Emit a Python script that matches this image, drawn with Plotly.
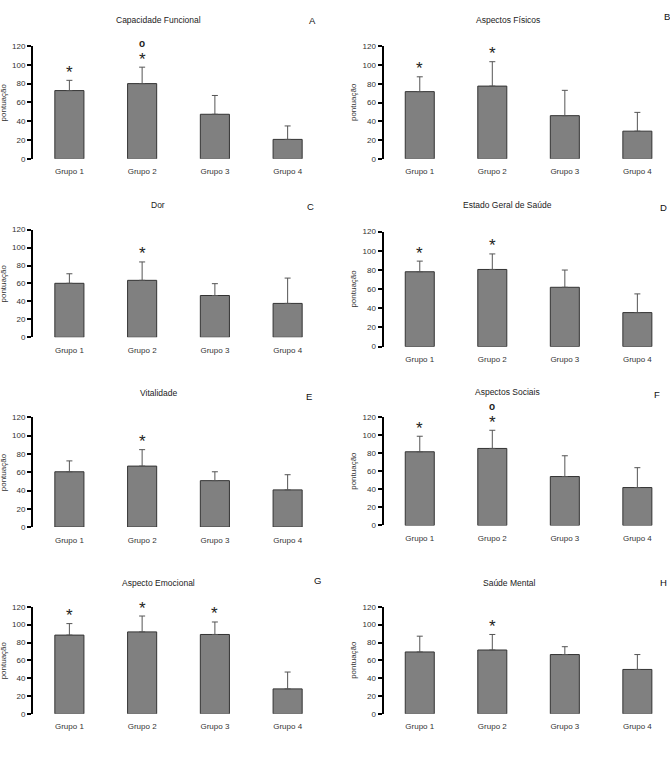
import plotly.graph_objects as go

W, H = 670, 766

groups = ["Grupo 1", "Grupo 2", "Grupo 3", "Grupo 4"]
yticks = [0, 20, 40, 60, 80, 100, 120]

titles = ["Capacidade Funcional", "Aspectos Físicos", "Dor", "Estado Geral de Saúde",
          "Vitalidade", "Aspectos Sociais", "Aspecto Emocional", "Saúde Mental"]
letters = ["A", "B", "C", "D", "E", "F", "G", "H"]

means_A = [72.6, 80.0, 47.4, 20.7]
sd_A = [10.9, 17.5, 20.0, 14.3]
means_B = [71.6, 77.5, 46.0, 29.5]
sd_B = [15.8, 26.0, 27.0, 20.0]
means_C = [60.2, 63.5, 46.6, 37.8]
sd_C = [10.6, 20.5, 13.2, 28.2]
means_D = [78.1, 80.5, 61.9, 35.5]
sd_D = [11.1, 16.2, 18.0, 19.5]
means_E = [60.5, 66.7, 50.8, 40.7]
sd_E = [11.9, 18.0, 9.7, 16.6]
means_F = [81.6, 85.3, 54.2, 42.0]
sd_F = [17.2, 20.1, 23.0, 22.0]
means_G = [88.3, 91.9, 89.0, 28.0]
sd_G = [12.9, 17.8, 14.0, 18.9]
means_H = [69.4, 71.6, 66.5, 49.8]
sd_H = [17.7, 17.4, 8.8, 16.7]

# significance markers: "*" and "o"
star_A = [1, 1, 0, 0]; circ_A = [0, 1, 0, 0]
star_B = [1, 1, 0, 0]; circ_B = [0, 0, 0, 0]
star_C = [0, 1, 0, 0]; circ_C = [0, 0, 0, 0]
star_D = [1, 1, 0, 0]; circ_D = [0, 0, 0, 0]
star_E = [0, 1, 0, 0]; circ_E = [0, 0, 0, 0]
star_F = [1, 1, 0, 0]; circ_F = [0, 1, 0, 0]
star_G = [1, 1, 1, 0]; circ_G = [0, 0, 0, 0]
star_H = [0, 1, 0, 0]; circ_H = [0, 0, 0, 0]

means = [means_A, means_B, means_C, means_D, means_E, means_F, means_G, means_H]
sds = [sd_A, sd_B, sd_C, sd_D, sd_E, sd_F, sd_G, sd_H]
stars = [star_A, star_B, star_C, star_D, star_E, star_F, star_G, star_H]
circs = [circ_A, circ_B, circ_C, circ_D, circ_E, circ_F, circ_G, circ_H]

# layout in pixels
x_dom_left = (33, 324)
x_dom_right = (383.5, 670)
y_doms = [(42.5, 156.7), (42.7, 156.7), (228.3, 337.3), (230.3, 346.7),
          (418.3, 529.3), (418.0, 527.7), (610.0, 718.3), (610.0, 718.3)]
title_pos = [(158, 16), (508, 16), (158, 203), (508, 203),
             (158, 394), (508, 393), (158, 586), (509, 586)]
letter_pos = [(312, 17), (667, 13), (310, 205), (663, 206),
              (309, 397), (657, 395), (317, 583), (663, 585)]

FONT = "Arial, Liberation Sans, sans-serif"

def px(x):
    return x / W

def py(y):
    return 1 - y / H

fig = go.Figure()
layout = dict(
    width=W, height=H,
    margin=dict(l=0, r=0, t=0, b=0),
    paper_bgcolor="white", plot_bgcolor="white",
    showlegend=False,
    font=dict(family=FONT, size=8, color="#333333"),
)
annotations = []

for i in range(8):
    n = i + 1
    xa = "xaxis" if n == 1 else f"xaxis{n}"
    ya = "yaxis" if n == 1 else f"yaxis{n}"
    xr = "x" if n == 1 else f"x{n}"
    yr = "y" if n == 1 else f"y{n}"
    right = (i % 2 == 1)
    xd = x_dom_right if right else x_dom_left
    xrange = [-0.5, 3.45] if right else [-0.5, 3.5]
    yd = y_doms[i]

    fig.add_trace(go.Bar(
        x=list(range(4)), y=means[i],
        width=0.4,
        marker=dict(color="#808080", line=dict(color="#333333", width=1)),
        error_y=dict(type="data", array=sds[i], arrayminus=[0] * 4, symmetric=False,
                     color="#555555", thickness=1, width=3),
        xaxis=xr, yaxis=yr,
    ))

    layout[xa] = dict(
        domain=[px(xd[0]), px(xd[1])], range=xrange, anchor=yr,
        tickmode="array", tickvals=list(range(4)), ticktext=groups,
        showline=False, showgrid=False, zeroline=False,
        ticks="outside", ticklen=5, tickcolor="rgba(0,0,0,0)",
        tickfont=dict(family=FONT, size=8, color="#333333"),
        fixedrange=True,
    )
    layout[ya] = dict(
        domain=[py(yd[1]), py(yd[0])], range=[0, 120], anchor=xr,
        tickmode="array", tickvals=yticks,
        showline=True, linecolor="black", linewidth=2,
        ticks="outside", ticklen=4, tickwidth=1.5, tickcolor="black",
        showgrid=False, zeroline=False,
        tickfont=dict(family=FONT, size=8, color="#333333"),
        fixedrange=True,
    )

    # y-axis title
    annotations.append(dict(
        text="pontuação", textangle=-90, showarrow=False,
        xref="paper", yref="paper", x=px(xd[0]), y=py((yd[0] + yd[1]) / 2),
        xanchor="center", yanchor="middle", xshift=-30,
        font=dict(family=FONT, size=8, color="#333333"),
    ))
    # panel title
    annotations.append(dict(
        text=titles[i], showarrow=False, xref="paper", yref="paper",
        x=px(title_pos[i][0]), y=py(title_pos[i][1]),
        xanchor="center", yanchor="middle",
        font=dict(family=FONT, size=8.5, color="#222222"),
    ))
    # panel letter
    annotations.append(dict(
        text=letters[i], showarrow=False, xref="paper", yref="paper",
        x=px(letter_pos[i][0]), y=py(letter_pos[i][1]),
        xanchor="center", yanchor="middle",
        font=dict(family=FONT, size=9.5, color="#111111"),
    ))
    # significance markers
    for j in range(4):
        top = means[i][j] + sds[i][j]
        if stars[i][j]:
            annotations.append(dict(
                text="*", showarrow=False, xref=xr, yref=yr, x=j, y=top,
                xanchor="center", yanchor="middle", yshift=8,
                font=dict(family=FONT, size=17, color="#222222"),
            ))
        if circs[i][j]:
            annotations.append(dict(
                text="<b>o</b>", showarrow=False, xref=xr, yref=yr, x=j, y=top,
                xanchor="center", yanchor="middle", yshift=24,
                font=dict(family=FONT, size=10, color="#222222"),
            ))

layout["annotations"] = annotations
fig.update_layout(**layout)
fig.write_html("out.html")
